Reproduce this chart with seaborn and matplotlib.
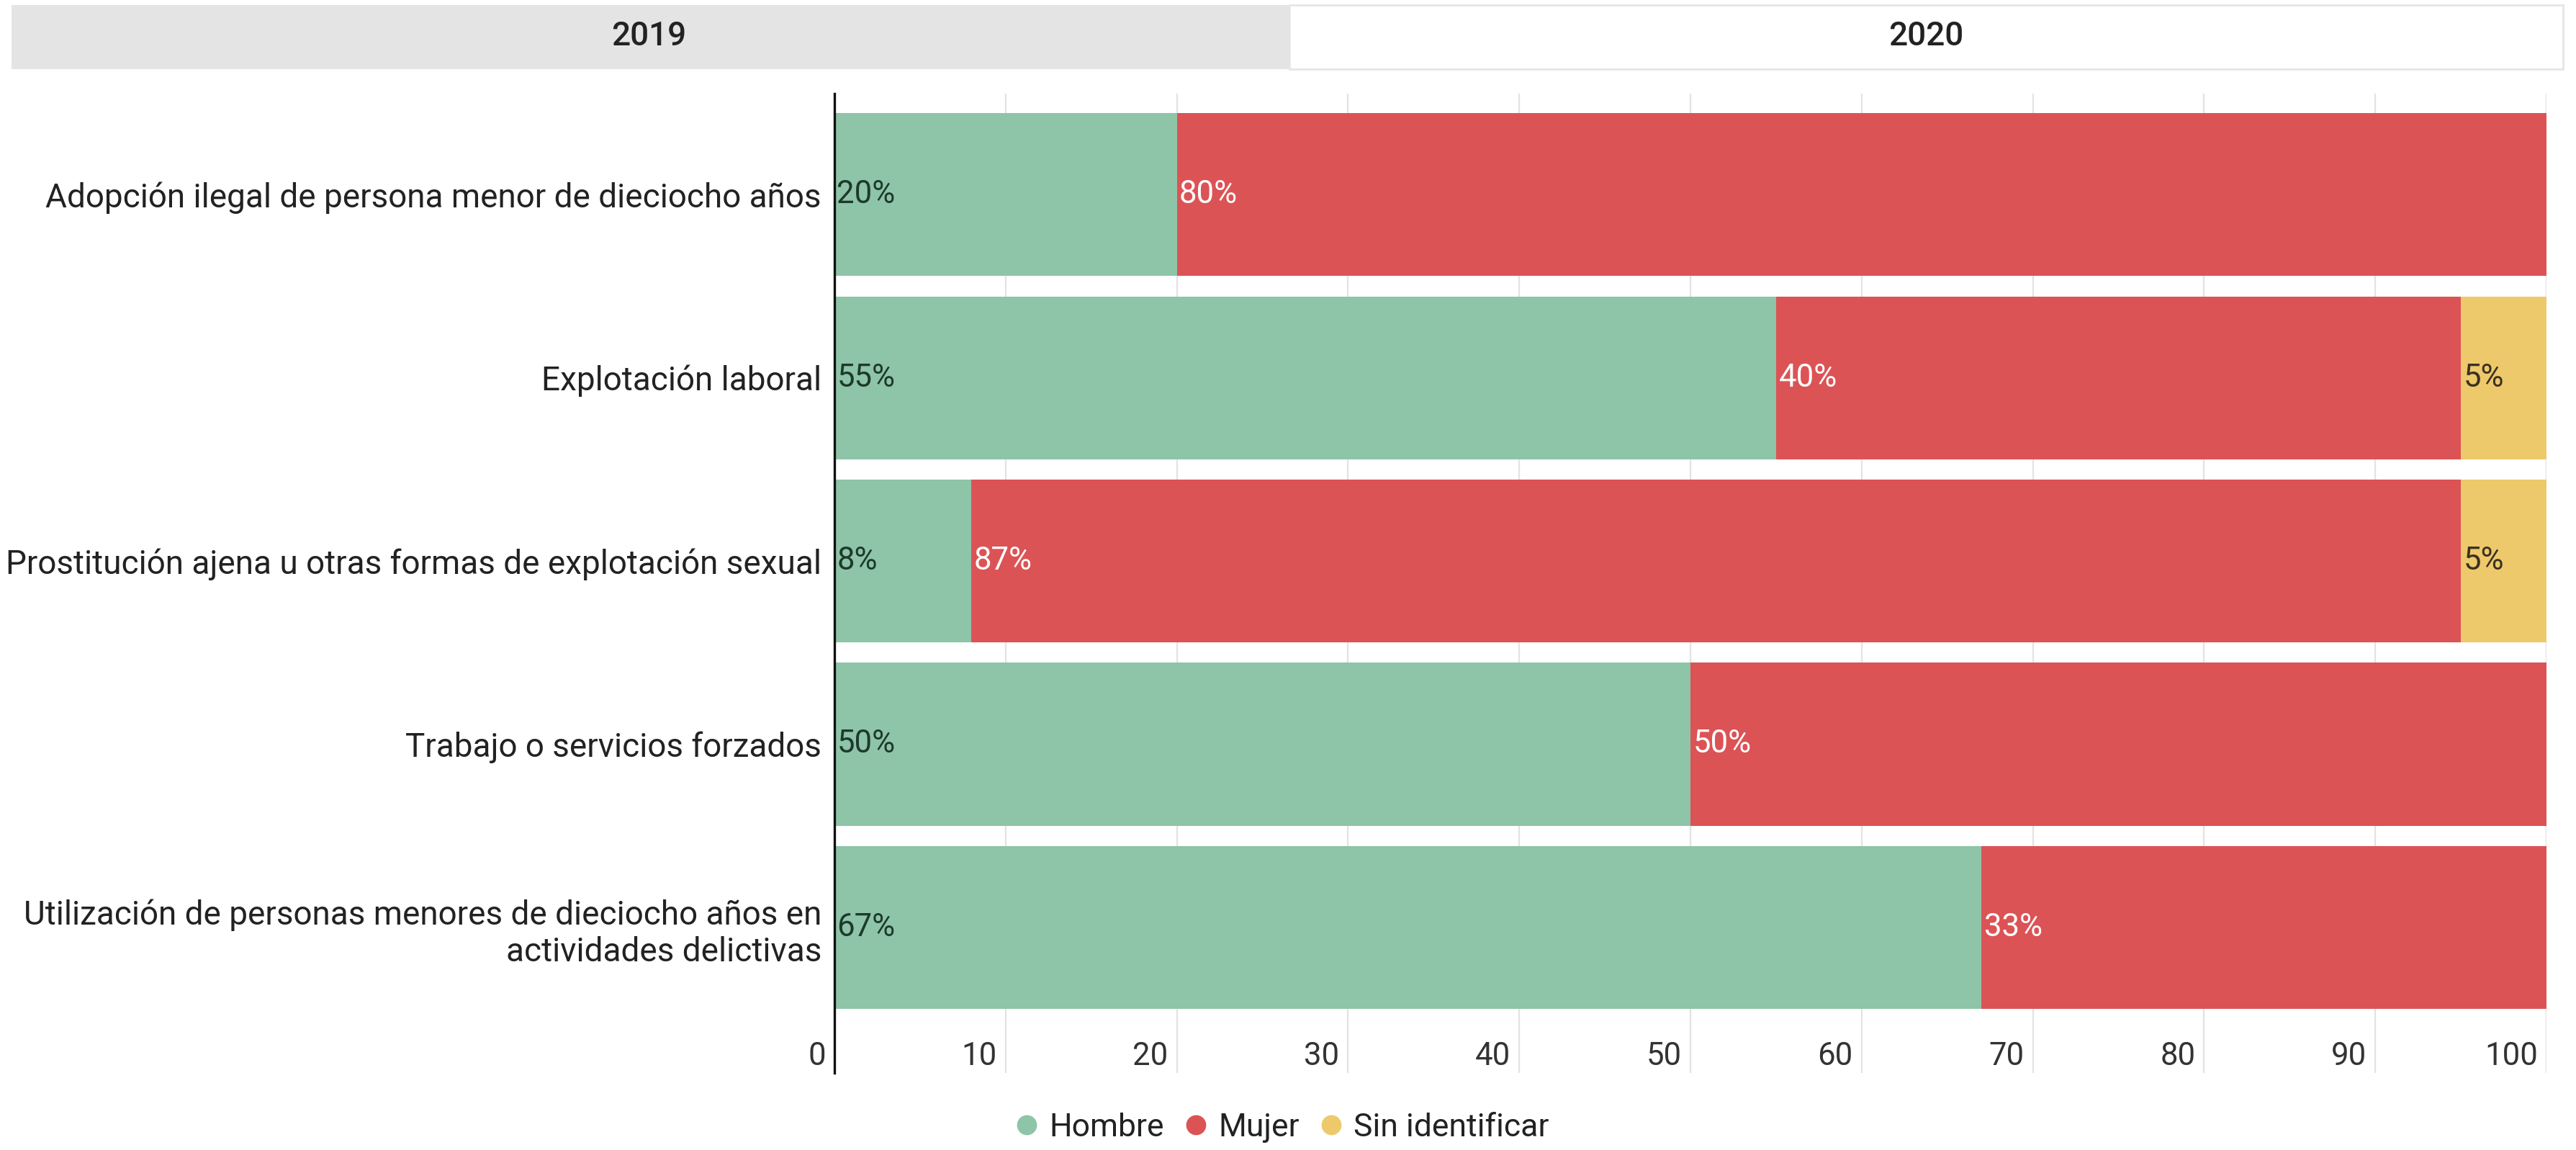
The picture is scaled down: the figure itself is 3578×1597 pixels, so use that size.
import matplotlib
matplotlib.use("Agg")
import matplotlib.pyplot as plt
import matplotlib.transforms as mtransforms
from matplotlib.patches import Rectangle
from matplotlib.lines import Line2D
import seaborn as sns
import pandas as pd
import numpy as np

categories = [
    "Adopción ilegal de persona menor de dieciocho años",
    "Explotación laboral",
    "Prostitución ajena u otras formas de explotación sexual",
    "Trabajo o servicios forzados",
    "Utilización de personas menores de dieciocho años en\nactividades delictivas",
]
hombre = [20, 55, 8, 50, 67]
mujer = [80, 40, 87, 50, 33]
sin_identificar = [0, 5, 5, 0, 0]
series_names = ["Hombre", "Mujer", "Sin identificar"]
colors = ["#8ec4a8", "#dc5355", "#edc96b"]
label_colors = ["#1c3a2b", "#ffffff", "#3a3120"]
xticks = [0, 10, 20, 30, 40, 50, 60, 70, 80, 90, 100]
tabs = ["2019", "2020"]

sns.set_theme(style="white")
plt.rcParams["font.family"] = ["Roboto", "DejaVu Sans"]

W, H = 3578, 1597
fig = plt.figure(figsize=(W / 100, H / 100), dpi=100)
ax = fig.add_axes([1159 / W, 1 - 1490 / H, (3537 - 1159) / W, (1490 - 130) / H])

df = pd.DataFrame({"cat": categories, "Hombre": hombre, "Mujer": mujer, "Sin identificar": sin_identificar})
df["c1"] = df["Hombre"]
df["c2"] = df["Hombre"] + df["Mujer"]
df["c3"] = df["c2"] + df["Sin identificar"]

bw = 0.889
sns.barplot(data=df, x="c3", y="cat", order=categories, color=colors[2], width=bw,
            orient="h", ax=ax, saturation=1, edgecolor="none", linewidth=0, zorder=2)
sns.barplot(data=df, x="c2", y="cat", order=categories, color=colors[1], width=bw,
            orient="h", ax=ax, saturation=1, edgecolor="none", linewidth=0, zorder=2)
sns.barplot(data=df, x="c1", y="cat", order=categories, color=colors[0], width=bw,
            orient="h", ax=ax, saturation=1, edgecolor="none", linewidth=0, zorder=2)

# segment labels
starts = [np.zeros(len(categories)), df["c1"].values, df["c2"].values]
vals = [hombre, mujer, sin_identificar]
for s in range(3):
    for i in range(len(categories)):
        v = vals[s][i]
        if v > 0:
            ax.annotate(f"{v}%", xy=(starts[s][i], i), xytext=(2.5, 0), textcoords="offset points",
                        ha="left", va="center", fontsize=31.5, color=label_colors[s], zorder=5)

ax.set_xlim(0, 100)
ax.set_ylim(4.795, -0.552)
ax.set_xlabel("")
ax.set_ylabel("")

for sp in ["top", "right", "bottom"]:
    ax.spines[sp].set_visible(False)
ax.spines["left"].set_color("#111111")
ax.spines["left"].set_linewidth(2.4)
ax.spines["left"].set_zorder(6)

ax.set_xticks(xticks)
ax.set_xticklabels([str(t) for t in xticks])
ax.grid(axis="x", color="#e3e3e3", linewidth=1.6, zorder=0)
ax.set_axisbelow(True)
ax.tick_params(axis="x", length=0, pad=0, labelsize=31.5, labelcolor="#333333")
ax.tick_params(axis="y", length=0, pad=13, labelsize=33, labelcolor="#222222")
off = mtransforms.ScaledTranslation(-0.12, 0.02, fig.dpi_scale_trans)
for lab in ax.get_xticklabels():
    lab.set_ha("right")
    lab.set_va("bottom")
    lab.set_transform(lab.get_transform() + off)
for lab in ax.get_yticklabels():
    lab.set_ha("right")
    lab.set_multialignment("right")

# tabs
fig.patches.append(Rectangle((16 / W, 1 - 96 / H), (1791 - 16) / W, (96 - 7) / H,
                             transform=fig.transFigure, facecolor="#e4e4e4", edgecolor="none", zorder=0))
fig.patches.append(Rectangle((1791 / W, 1 - 96 / H), (3560 - 1791) / W, (96 - 7) / H,
                             transform=fig.transFigure, facecolor="white", edgecolor="#e6e6e6",
                             linewidth=2, zorder=0))
fig.text(901 / W, 1 - 50 / H, tabs[0], ha="center", va="center", fontsize=33, color="#222222", weight="medium")
fig.text(2675 / W, 1 - 50 / H, tabs[1], ha="center", va="center", fontsize=33, color="#222222", weight="medium")

# legend
handles = [Line2D([0], [0], marker="o", linestyle="none", markersize=20, markerfacecolor=c,
                  markeredgecolor="none") for c in colors]
fig.legend(handles, series_names, loc="center", bbox_to_anchor=(1780 / W, 1 - 1566 / H), ncol=3,
           frameon=False, fontsize=32, handlelength=0.8, handletextpad=0.3, columnspacing=0.6,
           labelcolor="#222222")

fig.savefig("out.png", dpi=100, facecolor="white")
